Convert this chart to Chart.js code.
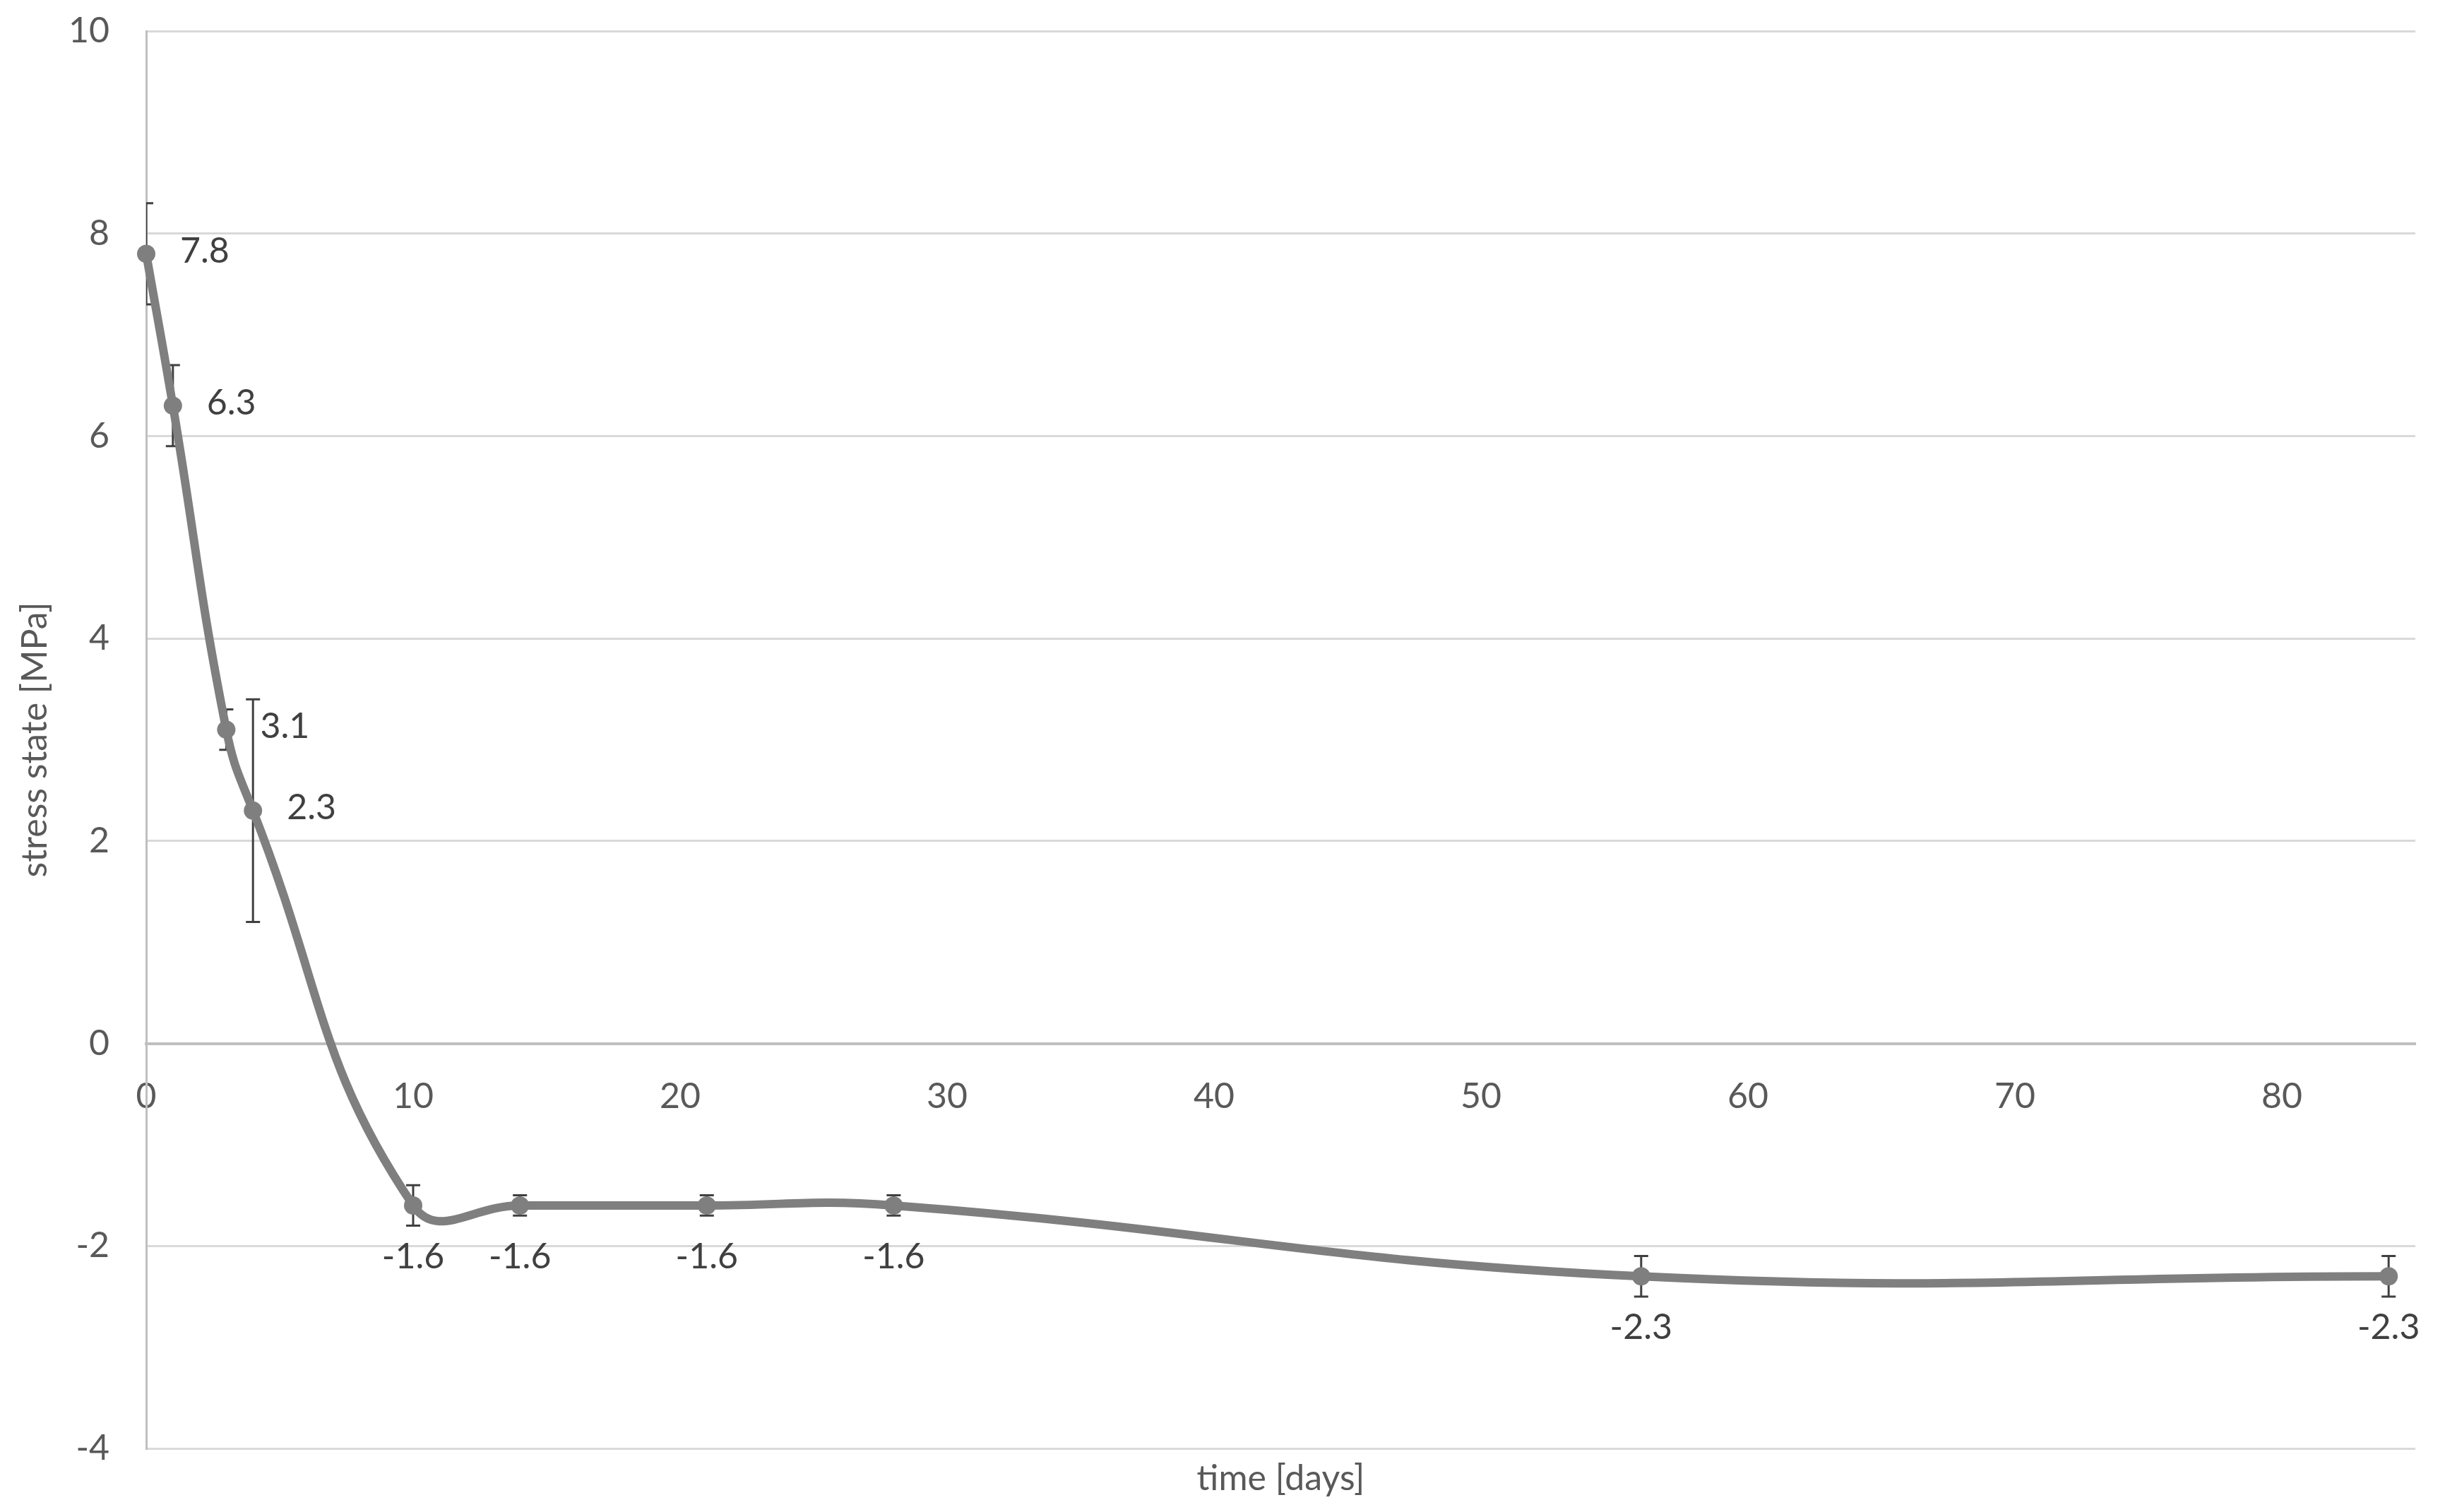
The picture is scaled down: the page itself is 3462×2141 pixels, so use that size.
<!DOCTYPE html>
<html>
<head>
<meta charset="utf-8">
<script src="https://cdn.jsdelivr.net/npm/chart.js@4/dist/chart.umd.min.js"></script>
<style>
html,body{margin:0;padding:0;background:#fff;}
#wrap{width:3462px;height:2141px;position:relative;}
</style>
</head>
<body>
<div id="wrap"><canvas id="grafico"></canvas></div>
<script>
// dados
const dias = [0, 1, 3, 4, 10, 14, 21, 28, 56, 84];
const tensao = [7.8, 6.3, 3.1, 2.3, -1.6, -1.6, -1.6, -1.6, -2.3, -2.3];
const desvio = [0.5, 0.4, 0.2, 1.1, 0.2, 0.1, 0.1, 0.1, 0.2, 0.2];
const ticksX = [0, 10, 20, 30, 40, 50, 60, 70, 80];
const ticksY = [-4, -2, 0, 2, 4, 6, 8, 10];

Chart.defaults.font.family = "Lato";

const barrasErro = {
  id: "barrasErro",
  beforeDatasetsDraw(chart){
    const {ctx, chartArea, scales:{x, y}} = chart;
    ctx.save();
    ctx.beginPath();
    ctx.rect(chartArea.left, 0, chart.width, chart.height);
    ctx.clip();
    ctx.strokeStyle = "#404040";
    ctx.lineWidth = 3;
    dias.forEach((d, i)=>{
      const px = x.getPixelForValue(d);
      const topo = y.getPixelForValue(tensao[i] + desvio[i]);
      const base = y.getPixelForValue(tensao[i] - desvio[i]);
      ctx.beginPath();
      ctx.moveTo(px, topo); ctx.lineTo(px, base);
      ctx.moveTo(px - 10, topo); ctx.lineTo(px + 10, topo);
      ctx.moveTo(px - 10, base); ctx.lineTo(px + 10, base);
      ctx.stroke();
    });
    ctx.restore();
  }
};

const rotulos = {
  id: "rotulos",
  afterDatasetsDraw(chart){
    const ctx = chart.ctx;
    const pts = chart.getDatasetMeta(0).data;
    ctx.save();
    ctx.font = "50px Lato";
    ctx.fillStyle = "#404040";
    ctx.textBaseline = "middle";
    pts.forEach((p, i)=>{
      const txt = tensao[i].toFixed(1);
      if(tensao[i] > 0){
        ctx.textAlign = "left";
        ctx.fillText(txt, p.x + 48, p.y - 4);
      } else {
        ctx.textAlign = "center";
        ctx.fillText(txt, p.x, p.y + 73);
      }
    });
    ctx.restore();
  }
};

new Chart(document.getElementById("grafico"), {
  type: "line",
  data: {
    datasets: [{
      data: dias.map((d, i)=>({x: d, y: tensao[i]})),
      borderColor: "#7f7f7f",
      backgroundColor: "#7f7f7f",
      borderWidth: 12,
      pointRadius: 13,
      pointBorderWidth: 0,
      pointBackgroundColor: "#7f7f7f",
      tension: 0.45,
      fill: false,
      clip: false
    }]
  },
  options: {
    responsive: true,
    maintainAspectRatio: false,
    animation: false,
    layout: {padding: {top: 44, right: 42, left: 0, bottom: 0}},
    plugins: {legend: {display: false}, tooltip: {enabled: false}},
    scales: {
      x: {
        type: "linear",
        position: {y: 0},
        min: 0, max: 85,
        afterBuildTicks: s=>{ s.ticks = ticksX.map(v=>({value: v})); },
        grid: {display: false, drawTicks: false},
        border: {display: true, color: "#bfbfbf", width: 4},
        ticks: {padding: 45, color: "#595959", font: {size: 50}, maxRotation: 0, autoSkip: false}
      },
      x2: {
        type: "linear",
        position: "bottom",
        min: 0, max: 85,
        ticks: {display: false},
        grid: {display: false, drawTicks: false},
        border: {display: false},
        title: {display: true, text: "time [days]", color: "#595959", font: {size: 50}, padding: {top: 0, bottom: 17}},
        afterFit: s=>{ s.height = 90; }
      },
      y: {
        min: -4, max: 10,
        afterBuildTicks: s=>{ s.ticks = ticksY.map(v=>({value: v})); },
        grid: {color: "#d9d9d9", lineWidth: 3, drawTicks: true, tickLength: 40, tickColor: "rgba(0,0,0,0)"},
        border: {color: "#bfbfbf", width: 3},
        ticks: {padding: 12, color: "#595959", font: {size: 50}},
        title: {display: true, text: "stress state [MPa]", color: "#595959", font: {size: 50}, padding: {top: 20, bottom: 0}},
        afterFit: s=>{ s.width = 207; }
      }
    }
  },
  plugins: [barrasErro, rotulos]
});
</script>
</body>
</html>
